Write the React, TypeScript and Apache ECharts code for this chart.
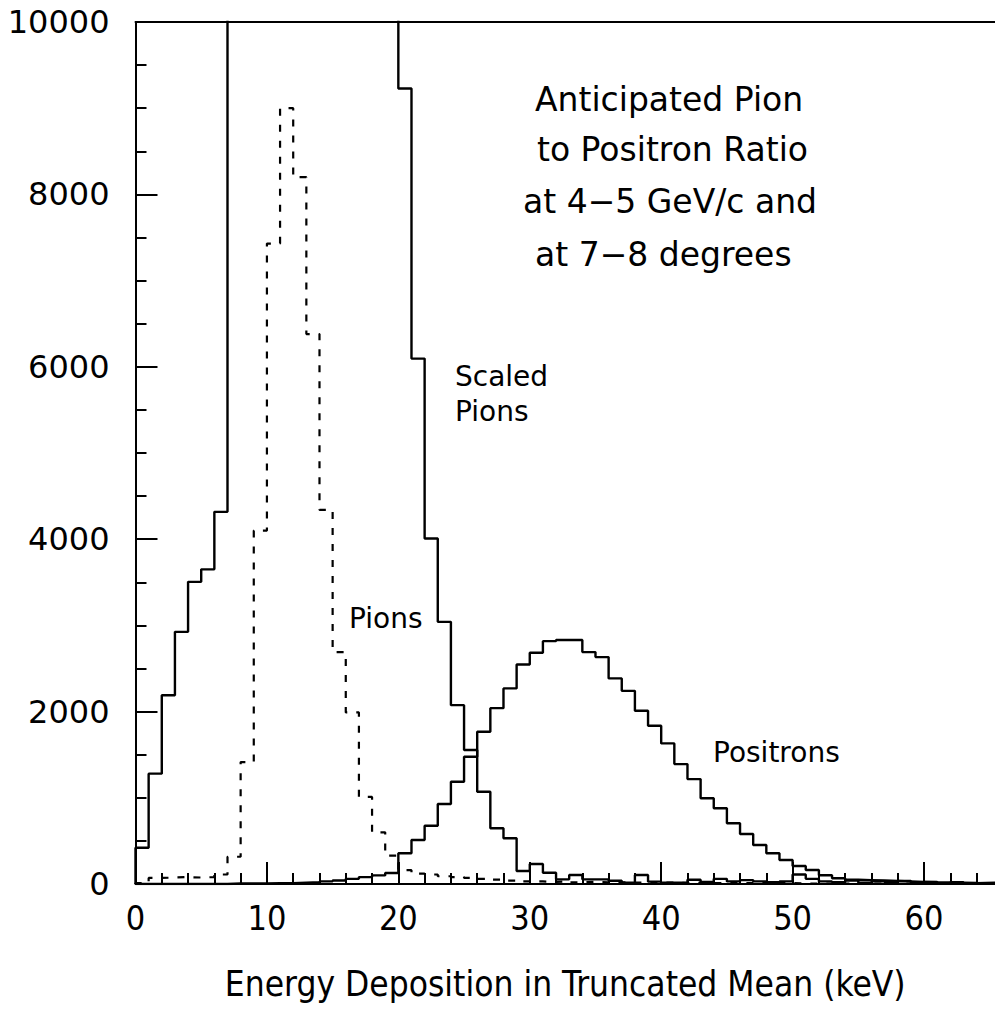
import React, { useEffect, useRef } from "react";
import * as echarts from "echarts";

// Histogram bins are 1 keV wide; bin i covers [i, i + 1).
const X_MAX = 65.4;
const Y_MAX = 10000;
const X_TICKS = [0, 10, 20, 30, 40, 50, 60];

// Scaled pion counts per bin (bins 7-19 run far off the top of the plot).
const scaledPions = [
  420, 1280, 2190, 2925, 3505, 3650, 4317, 14000, 21000, 30000,
  38000, 42000, 40000, 35000, 29000, 24000, 19000, 15000, 13000, 11000,
  9229, 6095, 4008, 3041, 2075, 1554, 1070, 646, 530, 150,
  232, 131, 54, 104, 54, 54, 38, 15, 104, 27,
  15, 15, 50, 25, 60, 30, 45, 30, 20, 30,
  110, 60, 30, 20, 40, 15, 30, 20, 35, 15,
  25, 10, 20, 10, 15,
];

// Pion counts per bin (dashed).
const pions = [
  10, 70, 75, 80, 75, 80, 110, 316, 1415, 4100,
  7430, 9000, 8200, 6380, 4340, 2690, 1990, 1010, 600, 330,
  160, 120, 110, 90, 80, 70, 60, 50, 40, 30,
  30, 25, 30, 20, 25, 20, 20, 15, 20, 15,
  15, 10, 15, 10, 10, 10, 10, 10, 10, 10,
  5, 5, 5, 5, 5, 5, 5, 5, 5, 5,
  5, 5, 5, 5, 5,
];

// Positron counts per bin.
const positrons = [
  0, 0, 0, 0, 0, 0, 0, 5, 5, 5,
  10, 10, 15, 20, 30, 40, 60, 80, 100, 128,
  356, 510, 676, 928, 1186, 1476, 1766, 2040, 2269, 2547,
  2682, 2817, 2830, 2830, 2690, 2632, 2385, 2241, 2009, 1835,
  1631, 1391, 1217, 994, 878, 704, 580, 452, 356, 278,
  209, 162, 101, 66, 50, 45, 40, 35, 30, 25,
  20, 18, 15, 12, 10,
];

// Turn bin contents into points for an "end" step line that starts on the baseline.
function stepPoints(values: number[]): [number, number][] {
  const pts: [number, number][] = [[0, 0]];
  values.forEach((v, i) => pts.push([i, v]));
  pts.push([X_MAX, values[values.length - 1]]);
  return pts;
}

const SANS = "DejaVu Sans";
const NARROW = "'DejaVu Sans Condensed', 'Liberation Sans Narrow', 'DejaVu Sans', sans-serif";

const GRID = { left: 135.5, right: 0, top: 22, bottom: 132 };
const PLOT_W = 995 - GRID.left - GRID.right;
const PLOT_H = 1016 - GRID.top - GRID.bottom;

export default function App() {
  const ref = useRef<HTMLDivElement>(null);

  useEffect(() => {
    if (!ref.current) return;
    const chart = echarts.init(ref.current, undefined, { renderer: "svg" });

    const histLine = (name: string, values: number[], dashed: boolean, width: number) => ({
      name,
      type: "line",
      step: "end",
      symbol: "none",
      clip: true,
      data: stepPoints(values),
      lineStyle: { color: "#000", width, type: dashed ? [7, 9] : "solid" },
      z: 3,
    });

    const ink = { color: "#000", width: 2 };
    const hidden = { show: false };

    chart.setOption({
      animation: false,
      backgroundColor: "#fff",
      grid: { ...GRID, outerBoundsMode: "none" },
      xAxis: [
        {
          // bottom axis: line, labels and title
          type: "value",
          min: 0,
          max: X_MAX,
          interval: 10,
          position: "bottom",
          splitLine: hidden,
          axisLine: { show: true, onZero: false, lineStyle: ink },
          axisTick: hidden,
          minorTick: hidden,
          axisLabel: {
            customValues: X_TICKS,
            margin: 17,
            color: "#000",
            fontFamily: NARROW,
            fontSize: 34,
          },
          name: "Energy Deposition in Truncated Mean (keV)",
          nameLocation: "middle",
          nameGap: 82,
          nameTextStyle: { color: "#000", fontFamily: NARROW, fontSize: 35 },
        },
        {
          // top frame line
          type: "value",
          min: 0,
          max: X_MAX,
          position: "top",
          splitLine: hidden,
          axisLine: { show: true, onZero: false, lineStyle: ink },
          axisTick: hidden,
          axisLabel: hidden,
        },
        {
          // tick marks standing up from the bottom edge into the plot
          type: "value",
          min: 0,
          max: X_MAX,
          interval: 10,
          position: "top",
          offset: -PLOT_H,
          splitLine: hidden,
          axisLine: { show: false, onZero: false },
          axisTick: { show: true, length: 22, customValues: X_TICKS, lineStyle: ink },
          minorTick: { show: true, splitNumber: 5, length: 11, lineStyle: ink },
          axisLabel: hidden,
        },
      ],
      yAxis: [
        {
          type: "value",
          min: 0,
          max: Y_MAX,
          interval: 2000,
          position: "left",
          splitLine: hidden,
          axisLine: { show: true, onZero: false, lineStyle: ink },
          axisTick: hidden,
          minorTick: hidden,
          axisLabel: {
            margin: 26,
            color: "#000",
            fontFamily: SANS,
            fontSize: 32,
            formatter: (v: number) => String(v),
          },
        },
        {
          // tick marks reaching right from the left edge into the plot
          type: "value",
          min: 0,
          max: Y_MAX,
          interval: 2000,
          position: "right",
          offset: -PLOT_W,
          splitLine: hidden,
          axisLine: { show: false, onZero: false },
          axisTick: { show: true, length: 22, lineStyle: ink },
          minorTick: { show: true, splitNumber: 4, length: 11, lineStyle: ink },
          axisLabel: hidden,
        },
      ],
      series: [
        histLine("Scaled Pions", scaledPions, false, 2.4),
        histLine("Pions", pions, true, 2.2),
        histLine("Positrons", positrons, false, 2.4),
      ],
      graphic: [
        { type: "text", left: 535, top: 83, style: { text: "Anticipated Pion", font: `33px ${SANS}`, fill: "#000" } },
        { type: "text", left: 537, top: 133, style: { text: "to Positron Ratio", font: `33px ${SANS}`, fill: "#000" } },
        { type: "text", left: 523, top: 185, style: { text: "at 4\u22125 GeV/c and", font: `33px ${SANS}`, fill: "#000" } },
        { type: "text", left: 535, top: 238, style: { text: "at 7\u22128 degrees", font: `33px ${SANS}`, fill: "#000" } },
        { type: "text", left: 455, top: 362, style: { text: "Scaled", font: `28px ${SANS}`, fill: "#000" } },
        { type: "text", left: 455, top: 397, style: { text: "Pions", font: `28px ${SANS}`, fill: "#000" } },
        { type: "text", left: 349, top: 604, style: { text: "Pions", font: `28px ${SANS}`, fill: "#000" } },
        { type: "text", left: 713, top: 738, style: { text: "Positrons", font: `28px ${SANS}`, fill: "#000" } },
      ],
    });

    return () => chart.dispose();
  }, []);

  return (
    <div
      ref={ref}
      style={{ position: "fixed", left: 0, top: 0, width: 995, height: 1016, background: "#fff" }}
    />
  );
}
